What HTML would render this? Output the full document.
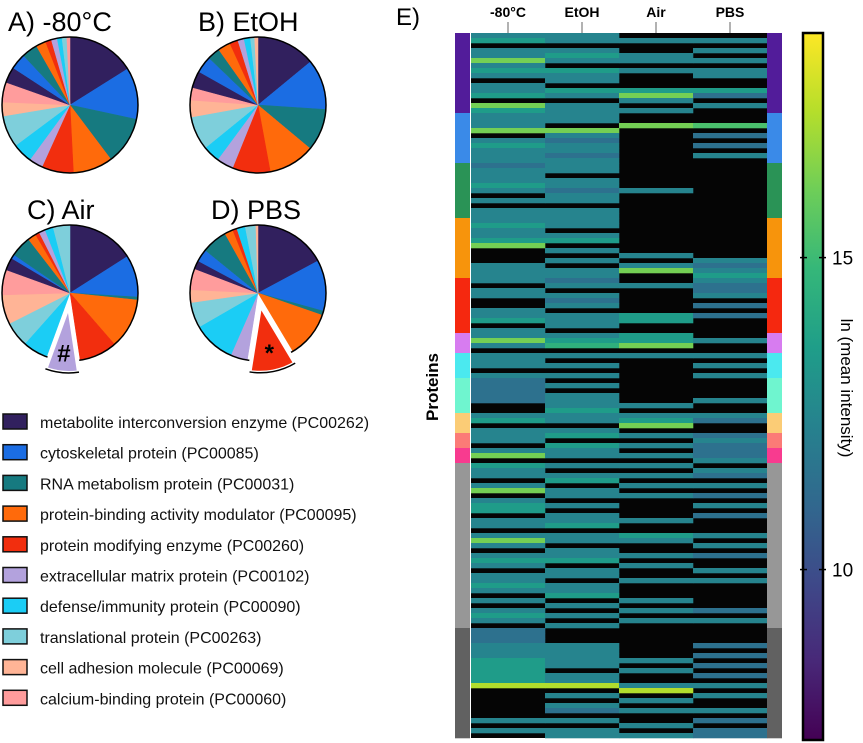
<!DOCTYPE html>
<html><head><meta charset="utf-8"><style>
body{margin:0;background:#fff;font-family:"Liberation Sans",Arial,sans-serif}
svg{display:block}
</style></head><body>
<svg id="fig" width="863" height="743" viewBox="0 0 863 743">
<g id="pies"></g>
<g id="legend"></g>
<g id="heat"></g>
</svg>
<script>
const NS="http://www.w3.org/2000/svg";
function mk(tag,attrs,parent){const e=document.createElementNS(NS,tag);for(const k in attrs)e.setAttribute(k,attrs[k]);parent.appendChild(e);return e;}

// ---------- pie data ----------
const categoryNames=["metabolite interconversion enzyme (PC00262)","cytoskeletal protein (PC00085)","RNA metabolism protein (PC00031)","protein-binding activity modulator (PC00095)","protein modifying enzyme (PC00260)","extracellular matrix protein (PC00102)","defense/immunity protein (PC00090)","translational protein (PC00263)","cell adhesion molecule (PC00069)","calcium-binding protein (PC00060)"];
const categoryColors=["#31205e","#1b6de3","#167a80","#ff6a0b","#f22e0e","#b3a2dd","#1bcdf5","#7ecfdb","#ffb496","#ff9c9c"];
const pieTitles=["A) -80°C","B) EtOH","C) Air","D) PBS"];
const pieCats=[
[0,1,2,3,4,5,6,7,8,9,0,1,2,3,4,5,6,7,9],
[0,1,2,3,4,5,6,7,8,9,0,1,2,3,4,5,6,7,8],
[0,1,2,3,4,5,6,7,8,9,0,1,2,3,4,5,6,7],
[0,1,2,3,4,5,6,7,8,9,0,1,2,3,4,6,7,8]];
const pieVals=[
[17,13,12,10,8,3.5,5,8,3.5,5,4,4,4,2.5,1.5,1.5,1.2,1.2,0.8],
[14,12,10,11,9,4,4,8,4,3,4,4,3,3,2,1.5,1.5,1,0.8],
[16,10,0.7,12,9,8,6,6,7,6,3,1,5,2,1,1.5,2,4],
[17,12,1,11,11,4,10,6,3,5,2,3,6,2,1,2,2.5,0.5]];
const pieExplode=[-1,-1,5,4];
const pieMarks=["","","#","*"];
const pieCenters=[[70,105],[258,105],[70,293],[258,293]];
const titlePos=[[8,31],[198,31],[27,219],[211,219]];
const R=68;
const pg=document.getElementById('pies');
pieVals.forEach((vals,p)=>{
  const g=mk('g',{},pg);
  
  
  const t=mk('text',{x:titlePos[p][0],y:titlePos[p][1],'font-size':27,fill:'#000'},g);
  t.textContent=pieTitles[p];
  
  
  const tot=vals.reduce((a,b)=>a+b,0);
  const [cx,cy]=pieCenters[p];
  let a=0;const later=[];
  vals.forEach((v,i)=>{
    const a0=a/tot*2*Math.PI,a1=(a+v)/tot*2*Math.PI;a+=v;
    let ox=0,oy=0;const ex=i===pieExplode[p];
    if(ex){const m=(a0+a1)/2;ox=12*Math.sin(m);oy=-12*Math.cos(m);}
    const x=cx+ox,y=cy+oy;
    const d=`M${x},${y}L${x+R*Math.sin(a0)},${y-R*Math.cos(a0)}A${R},${R} 0 ${a1-a0>Math.PI?1:0} 1 ${x+R*Math.sin(a1)},${y-R*Math.cos(a1)}Z`;
    if(ex){later.push([d,i,x,y,a0,a1]);return;}
    const s=mk('path',{d,fill:categoryColors[pieCats[p][i]],stroke:categoryColors[pieCats[p][i]],'stroke-width':0.5},g);
    
    
  });
  mk('circle',{cx,cy,r:R,fill:'none',stroke:'#000','stroke-width':1.5},g);
  later.forEach(([d,i,x,y,a0,a1])=>{
    const s=mk('path',{d,fill:categoryColors[pieCats[p][i]],stroke:'#fff','stroke-width':4,'stroke-linejoin':'miter'},g);
    
    
    mk('path',{d:`M${x+R*Math.sin(a0)},${y-R*Math.cos(a0)}A${R},${R} 0 0 1 ${x+R*Math.sin(a1)},${y-R*Math.cos(a1)}`,fill:'none',stroke:'#000','stroke-width':1.5},g);
    const m=(a0+a1)/2;
    const mt=mk('text',{x:x+48*Math.sin(m),y:y-48*Math.cos(m)+9,'font-size':24,'font-weight':'bold','text-anchor':'middle'},g);
    mt.textContent=pieMarks[p];
    
    
  });
});
// legend
const lg=document.getElementById('legend');
categoryNames.forEach((n,i)=>{
  const y=414+i*30.7;
  const r=mk('rect',{x:3,y:y,width:24,height:15,fill:categoryColors[i],stroke:'#111','stroke-width':1.5},lg);
  
  
  const t=mk('text',{x:40,y:y+14,'font-size':16,fill:'#111'},lg);
  t.textContent=n;
  
  
});

// ---------- heatmap data ----------
const conditions=["-80°C","EtOH","Air","PBS"];
const groupRows=[16,10,11,12,11,4,5,7,4,3,3,33,22];
const groupColors=["#521c9a","#3a8ae8","#2a9356","#f7940c","#f5280f","#d77cf0","#4be9ef","#6ff5cf","#fbcc76","#fb7b77","#f83b8f","#979797","#616161"];
const col80=["4504484540445085","4448045444","34445404044","454458000444","40440044504","4840","44404","3333300","4504","440","480","544048045504404840454044540404540","3334445555590000004040"];
const colEtOH=["4404540544054044","4408434434","44044344044","440450404044","34043404440","4560","40404","0404445","4404","505","440","404504404044504404450440445040404","0004444404490404304044"];
const colAir=["0400440400058404","0080000000","00000400000","000000040480","04000005500","5580","40000","0000040","4580","404","040","404040400004005400404004000404040","0000004040049040400404"];
const colPBS=["0404040440053040","0070303040","00000000000","000000004345","43340303000","0400","40404","0000400","4300","343","334","043040304030004040300404000003040","0003030303040400403033"];
const levelValues=[null,9,10.5,11.5,12.4,13.5,14.5,15.3,16.2,17.3];
const cbTicks=[10,15];
const vMin=7.3,vMax=18.6;

const HX0=471,HX1=767,HY0=33,HY1=738,CBX=803,CBW=20;
const colW=(HX1-HX0)/conditions.length;
const yScale=v=>HY1-(v-vMin)/(vMax-vMin)*(HY1-HY0);
const vir=[[68,1,84],[72,40,120],[62,73,137],[49,104,142],[38,130,142],[31,158,137],[53,183,121],[110,206,88],[181,222,43],[253,231,37]];
function viridis(v){let t=Math.max(0,Math.min(1,(v-vMin)/(vMax-vMin)))*(vir.length-1);const i=Math.min(vir.length-2,Math.floor(t)),f=t-i;const c=vir[i].map((x,k)=>Math.round(x+(vir[i+1][k]-x)*f));return `rgb(${c})`;}

const hg=document.getElementById('heat');
const totalRows=groupRows.reduce((a,b)=>a+b,0);
const rowH=(HY1-HY0)/totalRows;
mk('rect',{x:HX0,y:HY0,width:HX1-HX0,height:HY1-HY0,fill:'#050505'},hg);
[col80,colEtOH,colAir,colPBS].forEach((col,c)=>{
  const s=col.join('');
  for(let r=0;r<s.length;r++){
    const v=levelValues[+s[r]];
    if(v===null)continue;
    const cell=mk('rect',{x:HX0+c*colW,y:HY0+r*rowH,width:colW+0.3,height:rowH+0.3,fill:viridis(v)},hg);
    
    
  }
  const lx=HX0+(c+0.5)*colW;
  mk('line',{x1:lx,y1:22,x2:lx,y2:HY0,stroke:'#666','stroke-width':1},hg);
  const t=mk('text',{x:lx,y:17,'font-size':14,'font-weight':'bold','text-anchor':'middle'},hg);
  t.textContent=conditions[c];
  
  
});
// group side bars
let acc=0;
groupRows.forEach((n,i)=>{
  const y=HY0+acc*rowH;acc+=n;
  [455,HX1].forEach(x=>{
    const b=mk('rect',{x,y,width:15,height:n*rowH+0.3,fill:groupColors[i]},hg);
    
    
  });
});
const pl=mk('text',{x:0,y:0,'font-size':17,'font-weight':'bold','text-anchor':'middle',transform:'translate(438,387) rotate(-90)'},hg);
pl.textContent='Proteins';


// colorbar
const defs=mk('defs',{},hg);
const lgd=mk('linearGradient',{id:'cbg',x1:0,y1:1,x2:0,y2:0},defs);
vir.forEach((c,i)=>mk('stop',{offset:i/(vir.length-1),'stop-color':`rgb(${c})`},lgd));
const cb=mk('rect',{x:CBX,y:HY0,width:CBW,height:HY1+2-HY0,fill:'url(#cbg)',stroke:'#000','stroke-width':2.5},hg);


cbTicks.forEach(v=>{
  const y=yScale(v);
  mk('line',{x1:CBX-3,y1:y,x2:CBX+4,y2:y,stroke:'#000','stroke-width':1.5},hg);
  mk('line',{x1:CBX+CBW-4,y1:y,x2:CBX+CBW+3,y2:y,stroke:'#000','stroke-width':1.5},hg);
  const t=mk('text',{x:832,y:y+7,'font-size':19},hg);
  t.textContent=v;
  
  
});
const cl=mk('text',{x:0,y:0,'font-size':17,'text-anchor':'middle',transform:'translate(841,388) rotate(90)'},hg);
cl.textContent='ln (mean intensity)';


const el=mk('text',{x:396,y:25,'font-size':24},hg);
el.textContent='E)';


</script>
</body></html>
